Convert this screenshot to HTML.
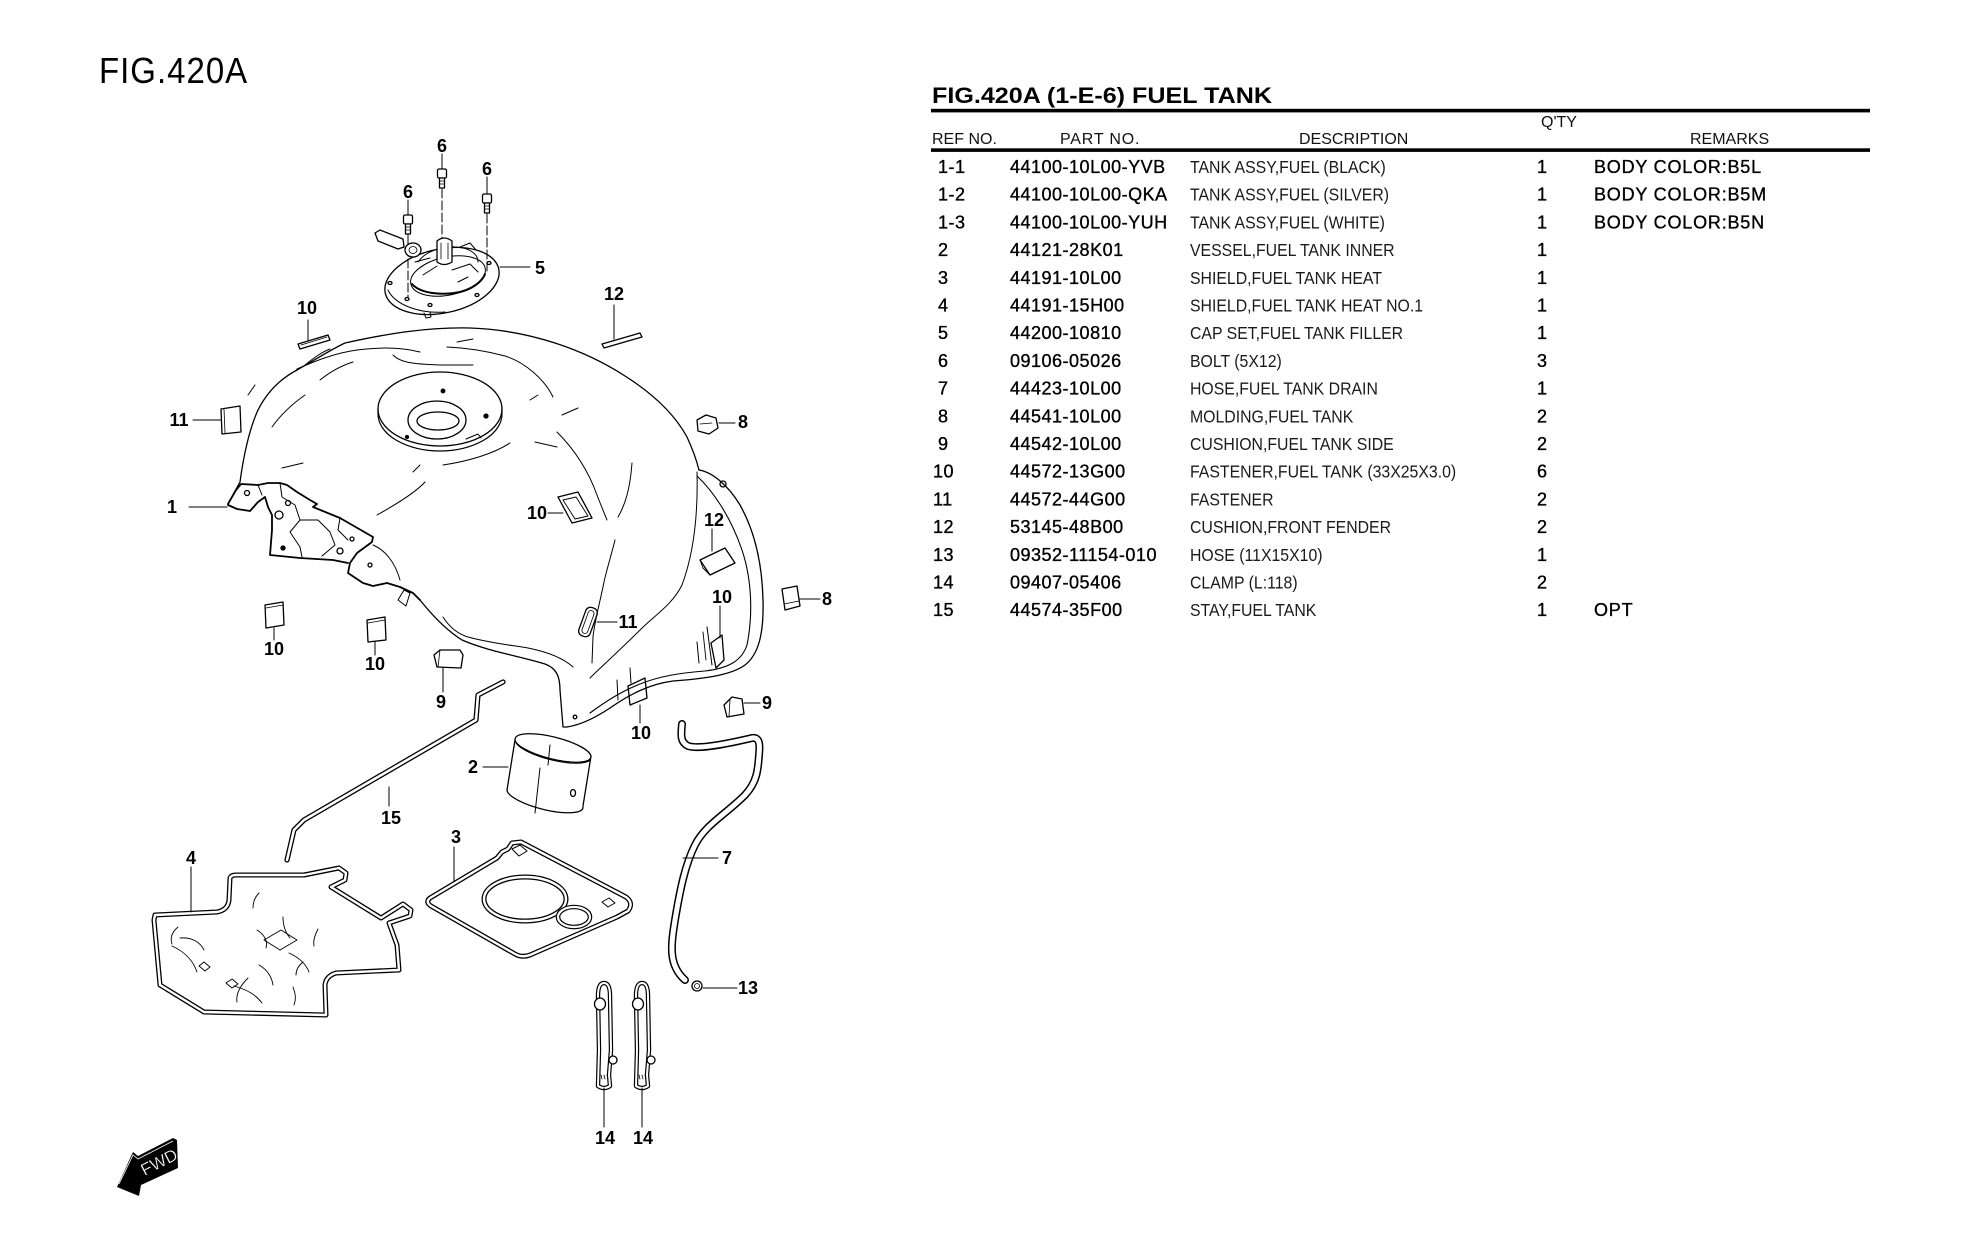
<!DOCTYPE html>
<html><head><meta charset="utf-8"><style>
html,body{margin:0;padding:0;background:#fff;}
body{width:1967px;height:1258px;overflow:hidden;}
svg{display:block;}
.lb{font-family:"Liberation Sans",Arial,sans-serif;font-weight:bold;font-size:18px;fill:#000;text-anchor:middle;}
.t{font-family:"Liberation Sans",Arial,sans-serif;fill:#000;}
.hd{font-size:16px;fill:#111;}
.pn{font-size:18px;letter-spacing:0.5px;stroke:#000;stroke-width:0.35;}
.ds{font-size:18px;fill:#1a1a1a;}
.rm{font-size:18px;letter-spacing:0.8px;stroke:#000;stroke-width:0.35;}
</style></head><body>
<svg width="1967" height="1258" viewBox="0 0 1967 1258" xmlns="http://www.w3.org/2000/svg">
<rect width="1967" height="1258" fill="#fff"/>

<!-- FIG title -->
<g transform="translate(99 83) scale(1 1.1)"><text class="t" x="0" y="0" font-size="33" letter-spacing="1">FIG.420A</text></g>

<!-- ===== TABLE ===== -->
<text class="t" x="932" y="103" font-size="22" font-weight="bold" textLength="340" lengthAdjust="spacingAndGlyphs">FIG.420A (1-E-6) FUEL TANK</text>
<rect x="931" y="108.8" width="939" height="3.6" fill="#000"/>
<rect x="931" y="148.3" width="939" height="3.6" fill="#000"/>
<text class="t hd" x="1541" y="127" font-size="15">Q'TY</text>
<text class="t hd" x="932" y="144">REF NO.</text>
<text class="t hd" x="1060" y="144" letter-spacing="0.8">PART NO.</text>
<text class="t hd" x="1299" y="144">DESCRIPTION</text>
<text class="t hd" x="1690" y="144">REMARKS</text>

<g class="t pn">
<text x="938" y="173">1-1</text>
<text x="938" y="200.7">1-2</text>
<text x="938" y="228.4">1-3</text>
<text x="938" y="256.1">2</text>
<text x="938" y="283.8">3</text>
<text x="938" y="311.5">4</text>
<text x="938" y="339.2">5</text>
<text x="938" y="366.9">6</text>
<text x="938" y="394.6">7</text>
<text x="938" y="422.3">8</text>
<text x="938" y="450">9</text>
<text x="933" y="477.7">10</text>
<text x="933" y="505.4">11</text>
<text x="933" y="533.1">12</text>
<text x="933" y="560.8">13</text>
<text x="933" y="588.5">14</text>
<text x="933" y="616.2">15</text>
</g>
<g class="t pn">
<text x="1010" y="173">44100-10L00-YVB</text>
<text x="1010" y="200.7">44100-10L00-QKA</text>
<text x="1010" y="228.4">44100-10L00-YUH</text>
<text x="1010" y="256.1">44121-28K01</text>
<text x="1010" y="283.8">44191-10L00</text>
<text x="1010" y="311.5">44191-15H00</text>
<text x="1010" y="339.2">44200-10810</text>
<text x="1010" y="366.9">09106-05026</text>
<text x="1010" y="394.6">44423-10L00</text>
<text x="1010" y="422.3">44541-10L00</text>
<text x="1010" y="450">44542-10L00</text>
<text x="1010" y="477.7">44572-13G00</text>
<text x="1010" y="505.4">44572-44G00</text>
<text x="1010" y="533.1">53145-48B00</text>
<text x="1010" y="560.8">09352-11154-010</text>
<text x="1010" y="588.5">09407-05406</text>
<text x="1010" y="616.2">44574-35F00</text>
</g>
<g transform="translate(1190 0) scale(0.88 1)" class="t ds">
<text x="0" y="173">TANK ASSY,FUEL (BLACK)</text>
<text x="0" y="200.7">TANK ASSY,FUEL (SILVER)</text>
<text x="0" y="228.4">TANK ASSY,FUEL (WHITE)</text>
<text x="0" y="256.1">VESSEL,FUEL TANK INNER</text>
<text x="0" y="283.8">SHIELD,FUEL TANK HEAT</text>
<text x="0" y="311.5">SHIELD,FUEL TANK HEAT NO.1</text>
<text x="0" y="339.2">CAP SET,FUEL TANK FILLER</text>
<text x="0" y="366.9">BOLT (5X12)</text>
<text x="0" y="394.6">HOSE,FUEL TANK DRAIN</text>
<text x="0" y="422.3">MOLDING,FUEL TANK</text>
<text x="0" y="450">CUSHION,FUEL TANK SIDE</text>
<text x="0" y="477.7">FASTENER,FUEL TANK (33X25X3.0)</text>
<text x="0" y="505.4">FASTENER</text>
<text x="0" y="533.1">CUSHION,FRONT FENDER</text>
<text x="0" y="560.8">HOSE (11X15X10)</text>
<text x="0" y="588.5">CLAMP (L:118)</text>
<text x="0" y="616.2">STAY,FUEL TANK</text>
</g>
<g class="t pn">
<text x="1537" y="173">1</text>
<text x="1537" y="200.7">1</text>
<text x="1537" y="228.4">1</text>
<text x="1537" y="256.1">1</text>
<text x="1537" y="283.8">1</text>
<text x="1537" y="311.5">1</text>
<text x="1537" y="339.2">1</text>
<text x="1537" y="366.9">3</text>
<text x="1537" y="394.6">1</text>
<text x="1537" y="422.3">2</text>
<text x="1537" y="450">2</text>
<text x="1537" y="477.7">6</text>
<text x="1537" y="505.4">2</text>
<text x="1537" y="533.1">2</text>
<text x="1537" y="560.8">1</text>
<text x="1537" y="588.5">2</text>
<text x="1537" y="616.2">1</text>
</g>
<g class="t rm">
<text x="1594" y="173">BODY COLOR:B5L</text>
<text x="1594" y="200.7">BODY COLOR:B5M</text>
<text x="1594" y="228.4">BODY COLOR:B5N</text>
<text x="1594" y="616.2">OPT</text>
</g>

<!-- ===== DRAWING ===== -->
<g fill="none" stroke="#000" stroke-width="1.3" stroke-linejoin="round" stroke-linecap="round">

<!-- bolts (6) -->
<line x1="442" y1="154" x2="442" y2="169" stroke-width="1"/>
<line x1="487" y1="177" x2="487" y2="194" stroke-width="1"/>
<line x1="408" y1="200" x2="408" y2="215" stroke-width="1"/>
<rect x="437.5" y="169" width="9" height="9" rx="1.5" fill="#fff"/>
<rect x="439.5" y="178" width="5" height="10" fill="#fff"/>
<path d="M440,181 h4 M440,184 h4" stroke-width="0.8"/>
<rect x="482.5" y="194" width="9" height="9" rx="1.5" fill="#fff"/>
<rect x="484.5" y="203" width="5" height="10" fill="#fff"/>
<path d="M485,206 h4 M485,209 h4" stroke-width="0.8"/>
<rect x="403.5" y="215" width="9" height="9" rx="1.5" fill="#fff"/>
<rect x="405.5" y="224" width="5" height="10" fill="#fff"/>
<path d="M406,227 h4 M406,230 h4" stroke-width="0.8"/>
<line x1="442" y1="189" x2="442" y2="238" stroke-width="1" stroke-dasharray="9 3"/>
<line x1="487" y1="214" x2="487" y2="274" stroke-width="1" stroke-dasharray="9 3"/>
<line x1="408" y1="235" x2="408" y2="297" stroke-width="1" stroke-dasharray="9 3"/>

<!-- cap set (5) -->
<ellipse cx="442" cy="281" rx="58" ry="32" transform="rotate(-12 442 281)"/>
<path d="M388,290 C395,305 420,314 445,312" stroke-width="1"/>
<ellipse cx="448" cy="276" rx="38" ry="19" transform="rotate(-12 448 276)" stroke-width="1"/>
<path d="M412,284 C420,293 440,296 460,292 C472,289 482,282 485,274" stroke-width="2"/>
<path d="M418,262 C425,252 440,246 456,247 C470,248 478,254 478,262" stroke-width="1"/>
<path d="M437,241 Q444,235 452,241 L452,262 Q444,267 437,262 Z" fill="#fff"/>
<path d="M441,243 v16 M448,243 v16" stroke-width="0.8"/>
<path d="M375,233 L380,230 L403,239 L404,247 L398,249 L378,241 Z" fill="#fff"/>
<ellipse cx="413" cy="250" rx="8" ry="7" fill="#fff"/>
<ellipse cx="413" cy="250" rx="4" ry="3.5" stroke-width="0.8"/>
<path d="M423,275 L437,266 M452,270 L470,264 L478,272 M458,282 L468,277" stroke-width="1"/>
<path d="M415,262 L430,258 M460,247 L470,243 L476,250" stroke-width="1"/>
<ellipse cx="390" cy="283" rx="2" ry="1.5"/>
<ellipse cx="430" cy="305" rx="2" ry="1.5"/>
<ellipse cx="477" cy="295" rx="2" ry="1.5"/>
<ellipse cx="489" cy="263" rx="2" ry="1.5"/>
<ellipse cx="407" cy="299" rx="2" ry="1.5"/>
<path d="M424,313 L426,318 L431,317 L430,312" stroke-width="1"/>
<line x1="500" y1="267" x2="530" y2="267" stroke-width="1"/>

<!-- top small parts -->
<path d="M298,344 L328,335 L330,340 L300,349 Z"/>
<path d="M301,345 L327,337" stroke-width="0.8"/>
<line x1="308" y1="320" x2="308" y2="341" stroke-width="1"/>
<path d="M602,344 L640,333 L642,337 L604,348 Z"/>
<line x1="614" y1="305" x2="614" y2="339" stroke-width="1"/>

<!-- TANK outline -->
<path d="M297,370 C315,360 330,350 345,343 C390,333 430,327 470,328 C530,330 585,350 625,376 C655,395 675,415 687,437 C693,450 697,462 699,470"/>
<path d="M699,470 C712,472 728,485 740,505 C753,528 762,560 763,600 C764,635 758,655 745,665 C730,676 700,679 673,681 C650,684 630,694 610,708 C595,718 580,725 567,727"/>
<path d="M697,476 C712,490 730,515 742,550 C752,580 753,615 747,645 C742,660 730,668 705,671 C680,673 660,676 640,684 C620,692 605,702 590,713" stroke-width="1.1"/>
<circle cx="723" cy="484" r="3"/>
<path d="M297,370 C282,378 268,390 258,410 C248,432 243,460 240,482 L228,504"/>
<path d="M297,369 C315,361 335,353 357,350 C380,347 400,347 420,352" stroke-width="1"/>
<path d="M305,365 C315,357 322,352 330,349" stroke-width="1"/>

<!-- bracket (1) -->
<path d="M228,504 L236,490 L241,484 L258,485 L268,483 L280,483 L287,485 L297,492 L310,500 L317,504 L313,507 L340,518 L373,537 L372,542 L357,553 L350,563 L348,573 L363,583 L373,586 L387,583 L400,587 L413,593 L420,600" stroke-width="1.8"/>
<path d="M228,505 L237,509 L250,511 L258,502 L265,497 L268,507 L272,515 L272,530 L270,555 L300,558 L333,560 L348,563" stroke-width="1.8"/>
<path d="M258,485 L262,495 M280,483 L282,497 L295,505 L300,520 L290,532 L300,547 L302,557 M300,520 L318,520 L330,532 L335,545 L322,556 M340,518 L338,530 L348,540" stroke-width="1"/>
<circle cx="247" cy="493" r="2.5"/>
<circle cx="288" cy="503" r="2.5"/>
<circle cx="279" cy="515" r="4"/>
<circle cx="283" cy="548" r="2" fill="#000"/>
<circle cx="352" cy="539" r="2"/>
<circle cx="340" cy="551" r="3"/>
<circle cx="370" cy="565" r="2"/>
<line x1="189" y1="507" x2="227" y2="507" stroke-width="1"/>
<path d="M398,600 L404,590 L410,593 L406,606 Z" stroke-width="1"/>
<path d="M373,545 C385,550 395,562 400,580" stroke-width="1"/>

<!-- tank bottom -->
<path d="M420,600 C432,615 446,630 462,640 C490,652 520,656 545,664 C556,668 560,676 560,690 L563,727 L567,727"/>
<path d="M443,617 C450,628 458,634 468,637 C490,643 510,645 528,648 C548,652 563,658 573,667" stroke-width="1"/>
<circle cx="575" cy="717" r="1.8"/>
<path d="M617,680 L618,700 M630,668 L631,683 M697,642 L699,663 M707,627 L712,665" stroke-width="1"/>

<!-- filler recess -->
<ellipse cx="440" cy="409" rx="62" ry="37"/>
<path d="M378,409 L378,414 A62,37 0 0 0 502,414 L502,409" stroke-width="1.2"/>
<ellipse cx="437" cy="420" rx="29" ry="19"/>
<ellipse cx="438" cy="421" rx="21" ry="9"/>
<circle cx="443" cy="391" r="1.8" fill="#000"/>
<circle cx="486" cy="416" r="2" fill="#000"/>
<circle cx="407" cy="437" r="1.5" fill="#000"/>
<path d="M466,439 L478,434 L481,438" stroke-width="1"/>

<!-- inner contour lines -->
<g stroke-width="1">
<path d="M393,355 C400,362 410,364 440,365 C455,365 465,365 473,365"/>
<path d="M457,342 L473,339"/>
<path d="M447,347 C470,348 490,352 505,356 C525,362 545,380 553,397"/>
<path d="M320,380 C330,372 340,366 353,362"/>
<path d="M272,427 C282,413 295,402 305,395"/>
<path d="M282,468 L303,463"/>
<path d="M377,515 C395,505 415,493 425,482"/>
<path d="M413,472 L420,465"/>
<path d="M443,465 C470,461 495,453 510,443"/>
<path d="M530,400 L538,395"/>
<path d="M535,442 L557,447"/>
<path d="M562,415 L578,408"/>
<path d="M557,432 C575,450 588,470 597,495 C602,508 605,515 607,520"/>
<path d="M615,540 C610,560 605,575 603,587 C598,610 594,625 593,637 L592,663"/>
<path d="M632,463 C630,490 625,505 618,517"/>
<path d="M697,472 C698,510 695,550 682,585 C672,605 655,615 640,630 C620,650 600,668 590,678"/>
<path d="M255,385 L248,395"/>
</g>

<!-- small fasteners / cushions -->
<path d="M221,409 L240,406 L241,432 L222,434 Z"/>
<path d="M224,409 L225,433" stroke-width="0.8"/>
<line x1="193" y1="420" x2="221" y2="420" stroke-width="1"/>
<path d="M697,420 L706,415 L716,418 L718,428 L709,434 L698,431 Z"/>
<path d="M700,424 L712,423" stroke-width="0.8"/>
<line x1="719" y1="423" x2="735" y2="423" stroke-width="1"/>
<path d="M558,497 L578,492 L592,518 L572,523 Z"/>
<path d="M563,500 L576,497 L588,516 L575,519 Z" stroke-width="0.9"/>
<line x1="548" y1="513" x2="563" y2="513" stroke-width="1"/>
<path d="M700,560 L725,548 L735,563 L710,575 Z"/>
<path d="M700,560 L703,568 L710,575" stroke-width="0.9"/>
<line x1="712" y1="529" x2="712" y2="551" stroke-width="1"/>
<path d="M782,589 L797,586 L800,606 L785,610 Z"/>
<path d="M784,604 L799,601" stroke-width="0.8"/>
<line x1="800" y1="599" x2="820" y2="599" stroke-width="1"/>
<rect x="582" y="607" width="12" height="30" rx="5" transform="rotate(20 588 622)"/>
<rect x="585" y="610" width="6" height="24" rx="3" transform="rotate(20 588 622)" stroke-width="0.8"/>
<line x1="597" y1="622" x2="617" y2="622" stroke-width="1"/>
<path d="M711,643 L722,635 L724,660 L716,668 Z"/>
<path d="M703,632 L706,660" stroke-width="0.9"/>
<line x1="720" y1="606" x2="720" y2="638" stroke-width="1"/>
<path d="M265,605 L283,602 L284,625 L266,628 Z"/>
<path d="M266,608 L283,605" stroke-width="0.8"/>
<line x1="274" y1="628" x2="274" y2="640" stroke-width="1"/>
<path d="M367,620 L385,617 L386,640 L368,642 Z"/>
<path d="M368,623 L385,620" stroke-width="0.8"/>
<line x1="375" y1="642" x2="375" y2="655" stroke-width="1"/>
<path d="M434,655 L440,650 L460,650 L463,655 L461,668 L437,667 Z"/>
<path d="M440,650 L438,667" stroke-width="0.8"/>
<line x1="443" y1="668" x2="443" y2="692" stroke-width="1"/>
<path d="M628,686 L645,678 L647,698 L630,705 Z"/>
<line x1="640" y1="705" x2="640" y2="723" stroke-width="1"/>
<path d="M724,705 L732,697 L742,699 L744,714 L727,717 Z"/>
<path d="M730,700 L729,716" stroke-width="0.8"/>
<line x1="744" y1="703" x2="760" y2="703" stroke-width="1"/>

<!-- stay (15) -->
<path d="M503,682 L478,695 L476,720 L304,820 L294,830 L287,860" stroke-width="5.2"/>
<path d="M503,682 L478,695 L476,720 L304,820 L294,830 L287,860" stroke="#fff" stroke-width="2.6"/>
<line x1="389" y1="787" x2="389" y2="806" stroke-width="1"/>

<!-- vessel (2) -->
<path d="M515,740 L507,790"/>
<path d="M591,756 L583,806"/>
<ellipse cx="553" cy="748" rx="39" ry="11" transform="rotate(14 553 748)" fill="#fff"/>
<path d="M516,743 A39,11 14 0 0 590,760" stroke-width="1"/>
<path d="M507,790 A39,11 14 0 0 583,807"/>
<path d="M540,768 L535,813 M550,745 L548,765" stroke-width="1"/>
<ellipse cx="573" cy="793" rx="2.5" ry="3.5"/>
<line x1="483" y1="767" x2="508" y2="767" stroke-width="1"/>

<!-- hose (7) -->
<path d="M682,724 C681,735 680,742 688,746 C700,750 735,742 752,738 C760,737 760,745 759,755 C758,770 757,782 745,795 C725,815 705,825 695,845 C685,865 680,890 675,920 C671,945 668,965 685,980" stroke-width="8"/>
<path d="M682,724 C681,735 680,742 688,746 C700,750 735,742 752,738 C760,737 760,745 759,755 C758,770 757,782 745,795 C725,815 705,825 695,845 C685,865 680,890 675,920 C671,945 668,965 685,980" stroke="#fff" stroke-width="5"/>
<line x1="683" y1="858" x2="718" y2="858" stroke-width="1"/>

<!-- clamp hose (13) -->
<circle cx="697" cy="986" r="5"/>
<circle cx="697" cy="986" r="2.5" stroke-width="0.8"/>
<line x1="703" y1="988" x2="737" y2="988" stroke-width="1"/>

<!-- gasket (3) -->
<path d="M430,898 L497,858 L502,852 L508,849 L512,843 L521,842 L626,897 Q634,903 628,911 L617,917 L530,955 Q522,958 515,954 L431,906 Q425,902 430,898 Z" stroke-width="5"/>
<path d="M430,898 L497,858 L502,852 L508,849 L512,843 L521,842 L626,897 Q634,903 628,911 L617,917 L530,955 Q522,958 515,954 L431,906 Q425,902 430,898 Z" stroke="#fff" stroke-width="2.4"/>
<ellipse cx="525" cy="899" rx="41" ry="22" stroke-width="5"/>
<ellipse cx="525" cy="899" rx="41" ry="22" stroke="#fff" stroke-width="2.4"/>
<ellipse cx="574" cy="917" rx="16" ry="10" stroke-width="4.6"/>
<ellipse cx="574" cy="917" rx="16" ry="10" stroke="#fff" stroke-width="2.2"/>
<path d="M512,849 L520,845 L527,851 L519,856 Z" stroke-width="1"/>
<path d="M602,902 L609,898 L615,903 L608,907 Z" stroke-width="1"/>
<line x1="454" y1="847" x2="454" y2="881" stroke-width="1"/>

<!-- shield (4) -->
<path d="M155,915 L217,912 Q228,910 229,900 L230,878 Q231,875 236,875 L304,875 L339,868 L346,873 L345,880 L331,887 L381,918 L403,904 L411,910 L410,916 L389,923 L397,945 L399,970 L336,973 Q326,976 325,985 L326,1015 L204,1012 L160,985 L154,920 Z" stroke-width="5"/>
<path d="M155,915 L217,912 Q228,910 229,900 L230,878 Q231,875 236,875 L304,875 L339,868 L346,873 L345,880 L331,887 L381,918 L403,904 L411,910 L410,916 L389,923 L397,945 L399,970 L336,973 Q326,976 325,985 L326,1015 L204,1012 L160,985 L154,920 Z" stroke="#fff" stroke-width="2.4"/>
<g stroke-width="0.9">
<path d="M264,940 L281,930 L297,940 L280,950 Z"/>
<path d="M199,966 L204,962 L210,967 L205,971 Z"/>
<path d="M226,983 L232,979 L238,984 L232,988 Z"/>
<path d="M178,927 C172,932 170,938 172,944"/>
<path d="M257,930 C265,935 268,942 266,948"/>
<path d="M180,938 C192,937 200,942 204,950"/>
<path d="M172,946 C185,952 193,960 197,972"/>
<path d="M283,917 C283,925 285,932 290,938"/>
<path d="M318,929 C315,935 313,940 314,946"/>
<path d="M289,953 C300,958 306,964 309,972"/>
<path d="M259,965 C268,970 272,978 273,985"/>
<path d="M234,986 C248,990 256,995 262,1003"/>
<path d="M303,962 C298,966 296,970 296,975"/>
<path d="M293,987 C296,995 296,1000 294,1005"/>
<path d="M259,893 C255,897 253,902 253,908"/>
<path d="M248,978 C238,988 236,996 237,1002"/>
</g>
<line x1="191" y1="867" x2="191" y2="912" stroke-width="1"/>

<!-- clamps (14) -->
<g>
<path d="M598,996 Q598,983 604,983 Q610,983 610,996 L611,1050 L609,1075 L610,1086 Q604,1090 598,1086 L599,1050 Z" stroke-width="4.4"/>
<path d="M598,996 Q598,983 604,983 Q610,983 610,996 L611,1050 L609,1075 L610,1086 Q604,1090 598,1086 L599,1050 Z" stroke="#fff" stroke-width="2"/>
<ellipse cx="600" cy="1004" rx="5.5" ry="6" fill="#fff"/>
<circle cx="613" cy="1060" r="4" fill="#fff"/>
<path d="M601,1075 l1,4 M604,1075 l1,4 M607,1075 l1,4" stroke-width="0.8"/>
<line x1="604" y1="1088" x2="604" y2="1127" stroke-width="1"/>
</g>
<g>
<path d="M636,996 Q636,983 642,983 Q648,983 648,996 L649,1050 L647,1075 L648,1086 Q642,1090 636,1086 L637,1050 Z" stroke-width="4.4"/>
<path d="M636,996 Q636,983 642,983 Q648,983 648,996 L649,1050 L647,1075 L648,1086 Q642,1090 636,1086 L637,1050 Z" stroke="#fff" stroke-width="2"/>
<ellipse cx="638" cy="1004" rx="5.5" ry="6" fill="#fff"/>
<circle cx="651" cy="1060" r="4" fill="#fff"/>
<path d="M639,1075 l1,4 M642,1075 l1,4 M645,1075 l1,4" stroke-width="0.8"/>
<line x1="642" y1="1088" x2="642" y2="1127" stroke-width="1"/>
</g>
</g>

<!-- FWD arrow -->
<polygon points="117,1187 133,1152 138,1156 173,1138 177,1140 178,1168 141,1185 139,1196" fill="#000"/>
<polyline points="119,1184 133,1155 138,1159 173,1141" fill="none" stroke="#fff" stroke-width="0.8"/>
<text x="159" y="1168" transform="rotate(-27 159 1162)" font-family="Liberation Sans, Arial, sans-serif" font-size="17" fill="#fff" stroke="#000" stroke-width="0.3" text-anchor="middle">FWD</text>

<!-- labels -->
<g class="lb">
<text x="442" y="152">6</text>
<text x="487" y="175">6</text>
<text x="408" y="198">6</text>
<text x="540" y="274">5</text>
<text x="307" y="314">10</text>
<text x="614" y="300">12</text>
<text x="179" y="426">11</text>
<text x="743" y="428">8</text>
<text x="172" y="513">1</text>
<text x="537" y="519">10</text>
<text x="714" y="526">12</text>
<text x="722" y="603">10</text>
<text x="827" y="605">8</text>
<text x="628" y="628">11</text>
<text x="274" y="655">10</text>
<text x="375" y="670">10</text>
<text x="441" y="708">9</text>
<text x="641" y="739">10</text>
<text x="767" y="709">9</text>
<text x="473" y="773">2</text>
<text x="391" y="824">15</text>
<text x="456" y="843">3</text>
<text x="191" y="864">4</text>
<text x="727" y="864">7</text>
<text x="748" y="994">13</text>
<text x="605" y="1144">14</text>
<text x="643" y="1144">14</text>
</g>
</svg>
</body></html>
